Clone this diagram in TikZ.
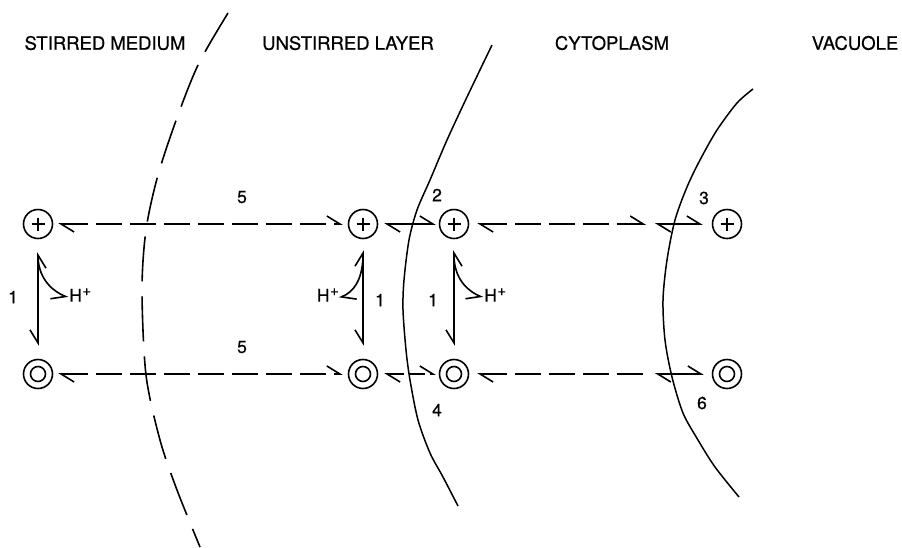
\documentclass[tikz,border=0pt]{standalone}
\usepackage{fontspec}
\setmainfont{TeX Gyre Heros}[FakeBold=0.6]
\usetikzlibrary{arrows.meta}
\newcommand{\hplus}{H\kern0.5pt\raisebox{6pt}{\fontsize{15}{15}\selectfont +}}
\begin{document}
\begin{tikzpicture}[x=1pt,y=-1pt,
  hb/.tip={Straight Barb[harpoon,length=13pt,width=16pt,line width=1.6pt]},
  hbs/.tip={Straight Barb[harpoon,swap,length=13pt,width=16pt,line width=1.6pt]},
  hdr/.style={font=\fontsize{18.5}{20}\selectfont, inner sep=0pt},
  lbl/.style={font=\fontsize{17.5}{18}\selectfont, inner sep=0pt},
  ion/.style={circle, draw, line width=1.6pt, minimum size=29pt, inner sep=0pt},
  posion/.style={ion, path picture={\draw[line width=1.6pt]
      ([xshift=-6.5pt]path picture bounding box.center) -- ([xshift=6.5pt]path picture bounding box.center)
      ([yshift=-6.5pt]path picture bounding box.center) -- ([yshift=6.5pt]path picture bounding box.center);}},
  neuion/.style={ion, path picture={\draw[line width=1.6pt] (path picture bounding box.center) circle[radius=7.5pt];}},
  conn/.style={line width=1.6pt},
  dconn/.style={line width=1.6pt, dash pattern=on 26pt off 8pt},
  bound/.style={line width=1.5pt},
  dbound/.style={line width=1.6pt, dash pattern=on 45pt off 15pt},
]
\useasboundingbox (0,0) rectangle (902,547);

% headers
\node[hdr] (sm) at (105,43) {STIRRED MEDIUM};
\node[hdr] (ul) at (348,43) {UNSTIRRED LAYER};
\node[hdr] (cy) at (612,43) {CYTOPLASM};
\node[hdr] (va) at (855,43) {VACUOLE};

% boundaries
\draw[dbound] plot[smooth] coordinates {(228,13) (199,63) (178,115) (158,175) (146,230) (142,290) (146,375) (160,440) (177,490) (200,547)};
\draw[bound] plot[smooth] coordinates {(492,45) (467,97) (447,140) (430,180) (417,210) (409,240) (404,280) (403,310) (406,350) (410,380) (418,420) (430,453) (443,477) (458,506)};
\draw[bound] plot[smooth] coordinates {(753,89) (737,103) (717,130) (700,160) (687,187) (675,220) (667,260) (663,300) (665,340) (672,377) (683,413) (698,440) (715,467) (739,497)};

% ions
\node[posion] (t1) at (38,224) {};
\node[posion] (t2) at (363,224) {};
\node[posion] (t3) at (454,224) {};
\node[posion] (t4) at (727,224) {};
\node[neuion] (b1) at (38,374) {};
\node[neuion] (b2) at (363,374) {};
\node[neuion] (b3) at (454,374) {};
\node[neuion] (b4) at (727,374) {};

% free ends near the vacuole boundary
\coordinate (te) at (646,224);
\coordinate (ts) at (655,224);
\coordinate (be) at (646,374);
\coordinate (bs) at (655,374);

% top row
\draw[dconn, hb-hb, shorten <=5pt, shorten >=5pt] (t1) -- (t2);
\draw[conn, hb-hb, shorten <=6pt, shorten >=3pt] (t2) -- (t3);
\draw[dconn, hb-hb, shorten <=8pt] (t3) -- (te);
\draw[conn, hb-hb, shorten >=9pt] (ts) -- (t4);
% bottom row
\draw[dconn, hb-hb, shorten <=5pt, shorten >=5pt] (b1) -- (b2);
\draw[conn, dash pattern=on 16pt off 5pt, hb-hb, shorten <=6pt, shorten >=3pt] (b2) -- (b3);
\draw[dconn, hb-, shorten <=8pt] (b3) -- (be);
\draw[conn, hb-hb, shorten >=8pt] (bs) -- (b4);

% vertical exchanges
\draw[conn, hbs-hbs, shorten <=13pt, shorten >=13pt] (t1) -- (b1);
\draw[conn, hb-hbs, shorten <=11pt, shorten >=13pt] (t2) -- (b2);
\draw[conn, hbs-hbs, shorten <=11pt, shorten >=13pt] (t3) -- (b3);

% protons
\node[lbl, anchor=west] (h1) at (69,295) {\hplus};
\node[lbl, anchor=east] (h2) at (339,295) {\hplus};
\node[lbl, anchor=west] (h3) at (484,295) {\hplus};
\draw[conn, -hbs, shorten >=1pt] ([yshift=-18pt]t1.south) .. controls +(1,24) and +(-14,-6) .. ([yshift=-3pt]h1.west);
\draw[conn, -hb] ([yshift=-18pt]t2.south) .. controls +(-1,24) and +(14,-6) .. ([yshift=-3pt]h2.east);
\draw[conn, -hbs, shorten >=1pt] ([yshift=-18pt]t3.south) .. controls +(1,24) and +(-14,-6) .. ([yshift=-3pt]h3.west);

% labels
\node[lbl] (l1a) at (13,297) {1};
\node[lbl] (l1b) at (380,300) {1};
\node[lbl] (l1c) at (433,300) {1};
\node[lbl] (l5a) at (242,197) {5};
\node[lbl] (l5b) at (242,347) {5};
\node[lbl] (l2) at (437,195) {2};
\node[lbl] (l3) at (704,198) {3};
\node[lbl] (l4) at (437,410) {4};
\node[lbl] (l6) at (702,403) {6};
\end{tikzpicture}
\end{document}
